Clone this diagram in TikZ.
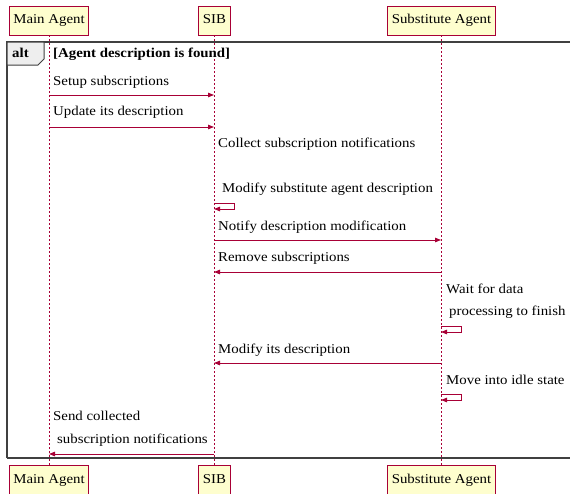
\documentclass[tikz,border=0pt]{standalone}
\usepackage{fontspec}
\setmainfont{Liberation Serif}[FakeStretch=1.1]
\usetikzlibrary{arrows.meta}
\definecolor{umlred}{HTML}{A80036}
\definecolor{umlfill}{HTML}{FEFECE}
\definecolor{altfill}{HTML}{EEEEEE}
\tikzset{
  actor/.style={draw=umlred, fill=umlfill, line width=0.9pt, minimum height=29pt, inner xsep=4pt, text height=9.5pt, text depth=3pt, font=\fontsize{13.5}{15}\selectfont},
  life/.style={draw=umlred, line width=0.9pt, dash pattern=on 2pt off 2pt},
  msg/.style={draw=umlred, line width=0.9pt, -{Triangle[length=6pt,width=4.5pt]}},
  lbl/.style={anchor=base west, inner sep=0pt, font=\fontsize{13.5}{15}\selectfont},
  frame/.style={draw=black!75, line width=1.3pt},
}
\begin{document}
\begin{tikzpicture}[x=1pt,y=-1pt]
\useasboundingbox (0,0) rectangle (570,493);
% actors top
\node[actor] (ma) at (49,20.5) {Main Agent};
\node[actor] (sib) at (214.5,20.5) {SIB};
\node[actor] (sa) at (441.5,20.5) {Substitute Agent};
% actors bottom
\node[actor, anchor=north] (ma2) at (49,465) {Main Agent};
\node[actor, anchor=north] (sib2) at (214.5,465) {SIB};
\node[actor, anchor=north] (sa2) at (441.5,465) {Substitute Agent};
% lifelines
\draw[life] (ma.south) -- (ma2.north);
\draw[life] (sib.south) -- (sib2.north);
\draw[life] (sa.south) -- (sa2.north);
% alt frame
\draw[frame] (7,458) -- (7,42) -- (572,42);
\draw[frame] (7,458) -- (572,458);
\draw[line width=1pt, draw=black!75, fill=altfill] (7,42) -- (44,42) -- (44,59) -- (38,65) -- (7,65) -- cycle;
\node[lbl, font=\fontsize{13.5}{15}\selectfont\bfseries] (alt) at (12,57) {alt};
\node[lbl, font=\fontsize{13.5}{15}\selectfont\bfseries] (guard) at (53,57) {[Agent description is found]};
% coordinates on lifelines
\foreach \n/\y in {a/95,b/127,c/240,d/272,e/363,f/454}{
  \coordinate (ma\n) at (49,\y);
  \coordinate (sib\n) at (214,\y);
  \coordinate (sa\n) at (441,\y);
}
% messages
\node[lbl] (t1) at (53,85) {Setup subscriptions};
\draw[msg] (maa) -- (siba);
\node[lbl] (t2) at (53,115) {Update its description};
\draw[msg] (mab) -- (sibb);
\node[lbl] (t3) at (218,147) {Collect subscription notifications};
\node[lbl] (t4) at (222,192) {Modify substitute agent description};
\coordinate (s1a) at (214,203);
\coordinate (s1b) at (214,209);
\draw[msg] (s1a) -- ++(20,0) |- (s1b);
\node[lbl] (t5) at (218,230) {Notify description modification};
\draw[msg] (sibc) -- (sac);
\node[lbl] (t6) at (218,261) {Remove subscriptions};
\draw[msg] (sad) -- (sibd);
\node[lbl] (t7) at (446,293) {Wait for data};
\node[lbl] (t7b) at (449,315) {processing to finish};
\coordinate (s2a) at (441,326);
\coordinate (s2b) at (441,332);
\draw[msg] (s2a) -- ++(20,0) |- (s2b);
\node[lbl] (t8) at (218,353) {Modify its description};
\draw[msg] (sae) -- (sibe);
\node[lbl] (t9) at (446,384) {Move into idle state};
\coordinate (s3a) at (441,394);
\coordinate (s3b) at (441,400);
\draw[msg] (s3a) -- ++(20,0) |- (s3b);
\node[lbl] (t10) at (53,420) {Send collected};
\node[lbl] (t10b) at (57,443) {subscription notifications};
\draw[msg] (sibf) -- (maf);
\end{tikzpicture}
\end{document}
